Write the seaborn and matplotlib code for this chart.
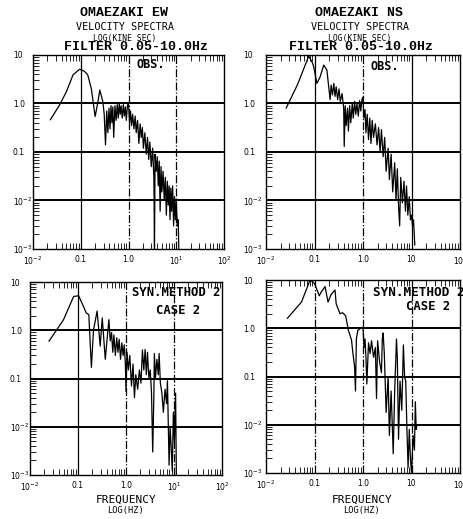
import numpy as np
import pandas as pd
import matplotlib
matplotlib.use("Agg")
import matplotlib.pyplot as plt
from matplotlib.ticker import FixedLocator, LogLocator, NullFormatter
import seaborn as sns

# ---- spectra (frequency in Hz, amplitude in kine*sec) ----
ew_obs_f = [0.023, 0.036, 0.05, 0.069, 0.095, 0.12, 0.14, 0.167, 0.2, 0.23, 0.25, 0.29,
            0.31, 0.33, 0.35, 0.37, 0.39, 0.41, 0.43, 0.45, 0.47, 0.49, 0.52, 0.55, 0.58,
            0.61, 0.64, 0.67, 0.70, 0.74, 0.78, 0.82, 0.86, 0.90, 0.95, 1.0, 1.05, 1.1,
            1.16, 1.22, 1.3, 1.38, 1.45, 1.55, 1.65, 1.75, 1.85, 1.95, 2.05, 2.2, 2.35,
            2.5, 2.65, 2.8, 3.0, 3.2, 3.4, 3.5, 3.6, 3.8, 4.0, 4.2, 4.4, 4.6, 4.8, 5.0,
            5.3, 5.6, 5.9, 6.2, 6.5, 6.8, 7.1, 7.4, 7.7, 8.0, 8.4, 8.8, 9.2, 9.6, 10.0,
            10.5, 11.0, 11.3]
ew_obs_a = [0.46, 0.93, 1.75, 3.9, 5.1, 4.6, 3.9, 2.0, 0.54, 1.1, 1.9, 1.1,
            0.6, 0.14, 0.7, 0.25, 0.8, 0.3, 0.9, 0.4, 0.85, 0.2, 0.9, 0.45, 0.95,
            0.5, 1.0, 0.6, 0.9, 0.5, 0.95, 0.55, 0.85, 0.45, 0.9, 1.05, 0.4, 0.7,
            0.35, 0.6, 0.3, 0.55, 0.25, 0.45, 0.15, 0.38, 0.2, 0.32, 0.12, 0.25, 0.09,
            0.2, 0.07, 0.16, 0.05, 0.12, 0.03, 0.001, 0.09, 0.04, 0.08, 0.02, 0.065, 0.006,
            0.05, 0.015, 0.04, 0.01, 0.03, 0.005, 0.025, 0.008, 0.02, 0.004, 0.018, 0.006,
            0.02, 0.003, 0.012, 0.004, 0.01, 0.003, 0.004, 0.001]

ns_obs_f = [0.026, 0.045, 0.076, 0.09, 0.096, 0.112, 0.13, 0.155, 0.18, 0.21, 0.22, 0.235,
            0.25, 0.265, 0.28, 0.30, 0.32, 0.34, 0.37, 0.40, 0.41, 0.43, 0.45, 0.48, 0.50,
            0.53, 0.56, 0.6, 0.63, 0.67, 0.71, 0.75, 0.8, 0.85, 0.9, 0.95, 1.0, 1.04, 1.1,
            1.15, 1.22, 1.3, 1.38, 1.46, 1.55, 1.65, 1.8, 1.95, 2.1, 2.25, 2.4, 2.6, 2.8,
            3.0, 3.3, 3.5, 3.8, 4.1, 4.5, 4.8, 5.1, 5.4, 5.7, 6.0, 6.5, 7.0, 7.5, 7.9,
            8.4, 9.0, 9.5, 10.0, 10.5, 11.0, 11.7]
ns_obs_a = [0.8, 2.5, 9.5, 7.0, 5.8, 2.6, 3.5, 6.2, 4.9, 1.2, 2.4, 1.5,
            2.6, 1.4, 2.2, 1.2, 2.0, 1.1, 1.6, 0.8, 0.13, 0.9, 0.35, 0.8, 0.27,
            0.9, 0.4, 1.0, 0.5, 1.1, 0.6, 1.0, 0.55, 1.15, 0.7, 1.2, 1.35, 0.5, 0.75,
            0.25, 0.6, 0.18, 0.5, 0.15, 0.45, 0.2, 0.38, 0.14, 0.32, 0.1, 0.29, 0.08, 0.2,
            0.04, 0.12, 0.027, 0.09, 0.015, 0.06, 0.01, 0.045, 0.008, 0.003, 0.03, 0.009,
            0.025, 0.006, 0.02, 0.005, 0.012, 0.004, 0.005, 0.003, 0.004, 0.0012]

ew_syn_f = [0.0248, 0.05, 0.081, 0.103, 0.125, 0.148, 0.168, 0.19, 0.21, 0.25, 0.29, 0.32,
            0.37, 0.44, 0.47, 0.5, 0.53, 0.56, 0.6, 0.64, 0.68, 0.72, 0.77, 0.82, 0.87,
            0.92, 0.97, 1.0, 1.05, 1.12, 1.2, 1.3, 1.4, 1.5, 1.6, 1.75, 1.9, 2.05, 2.2,
            2.35, 2.5, 2.65, 2.8, 3.0, 3.2, 3.4, 3.6, 3.8, 3.9, 4.1, 4.4, 4.7, 4.9, 5.2,
            5.6, 6.0, 6.5, 7.0, 7.3, 7.9, 8.3, 8.7, 9.2, 9.7, 10.2, 10.8, 11.2]
ew_syn_a = [0.59, 1.66, 5.0, 5.2, 3.4, 2.3, 2.1, 0.17, 1.0, 2.5, 0.47, 1.8,
            0.25, 1.66, 0.6, 0.9, 0.35, 0.8, 0.3, 0.7, 0.35, 0.65, 0.25, 0.55, 0.3,
            0.5, 0.2, 0.054, 0.35, 0.15, 0.3, 0.07, 0.2, 0.04, 0.12, 0.06, 0.15, 0.08, 0.39,
            0.15, 0.4, 0.12, 0.35, 0.1, 0.15, 0.05, 0.003, 0.04, 0.33, 0.1, 0.25, 0.12, 0.33,
            0.08, 0.05, 0.02, 0.06, 0.03, 0.09, 0.0016, 0.01, 0.004, 0.0012, 0.02, 0.005,
            0.05, 0.001]

ns_syn_f = [0.0275, 0.054, 0.081, 0.1, 0.12, 0.125, 0.14, 0.165, 0.19, 0.22, 0.265, 0.28,
            0.336, 0.38, 0.44, 0.5, 0.58, 0.62, 0.67, 0.7, 0.73, 0.78, 0.9, 1.0, 1.05,
            1.1, 1.15, 1.2, 1.3, 1.4, 1.5, 1.65, 1.8, 1.9, 2.0, 2.2, 2.4, 2.5, 2.6, 2.75,
            3.0, 3.3, 3.5, 3.8, 4.2, 4.5, 4.9, 5.1, 5.4, 5.8, 6.3, 6.8, 7.2, 7.6, 8.0,
            8.5, 9.0, 9.5, 10.0, 10.8, 11.5, 12.0, 12.5, 13.0]
ns_syn_a = [1.6, 3.5, 10.0, 8.5, 5.3, 4.7, 5.8, 7.3, 3.5, 5.0, 6.2, 3.2,
            2.0, 2.1, 1.8, 0.9, 0.57, 0.3, 0.16, 0.05, 0.6, 0.9, 1.0, 1.05, 0.4,
            0.6, 0.25, 0.07, 0.5, 0.3, 0.55, 0.25, 0.4, 0.035, 0.55, 0.2, 0.12, 0.6, 0.8, 0.3,
            0.018, 0.1, 0.006, 0.05, 0.0025, 0.05, 0.6, 0.25, 0.005, 0.08, 0.02, 0.45, 0.1,
            0.08, 0.01, 0.0013, 0.008, 0.002, 0.001, 0.006, 0.003, 0.03, 0.008, 0.01]

y_ticks = [1e-3, 1e-2, 1e-1, 1.0, 10.0]
y_ticklabels = ["$10^{-3}$", "$10^{-2}$", "0.1", "1.0", "10"]
x_ticks = [1e-2, 1e-1, 1.0, 10.0, 100.0]
x_ticklabels_a = ["$10^{-2}$", "0.1", "1.0", "$10^{1}$", "$10^{2}$"]
x_ticklabels_b = ["$10^{-2}$", "0.1", "1.0", "10", "$10^{2}$"]

sns.set_style("white")
plt.rcParams["font.family"] = ["DejaVu Sans"]
plt.rcParams["mathtext.fontset"] = "dejavusans"

W, H = 463, 519
fig = plt.figure(figsize=(W / 100, H / 100), dpi=100)


def px_axes(x0, x1, ytop, ybot):
    return fig.add_axes([x0 / W, 1 - ybot / H, (x1 - x0) / W, (ybot - ytop) / H])


panels = [
    # (rect, freq, amp, x labels, vertical grid styles, y label pad)
    ((33, 224, 55, 249), ew_obs_f, ew_obs_a, x_ticklabels_a, ["-", "-.", "-."], 14.5),
    ((266, 460, 55, 249), ns_obs_f, ns_obs_a, x_ticklabels_b, ["-", "-.", "-"], 16.5),
    ((30, 222, 282, 475), ew_syn_f, ew_syn_a, x_ticklabels_a, ["-", "-.", "-."], 14.5),
    ((266, 460, 280, 473), ns_syn_f, ns_syn_a, x_ticklabels_b, ["-.", "-.", "-."], 16.5),
]

for rect, f, a, xl, vstyles, ypad in panels:
    ax = px_axes(*rect)
    df = pd.DataFrame({"freq": f, "amp": a})
    ax.set_xscale("log")
    ax.set_yscale("log")
    ax.set_xlim(1e-2, 1e2)
    ax.set_ylim(1e-3, 10)
    # decade grid
    for yv in [1e-2, 1e-1, 1.0]:
        ax.axhline(yv, color="black", lw=1.4, zorder=1)
    for xv, ls in zip([0.1, 1.0, 10.0], vstyles):
        ax.axvline(xv, color="black", lw=0.9, ls=ls, zorder=1)
    sns.lineplot(data=df, x="freq", y="amp", ax=ax, color="black", lw=0.9,
                 estimator=None, sort=True, zorder=3)
    ax.set_xlabel("")
    ax.set_ylabel("")
    ax.xaxis.set_major_locator(FixedLocator(x_ticks))
    ax.yaxis.set_major_locator(FixedLocator(y_ticks))
    ax.set_xticklabels(xl)
    ax.set_yticklabels(y_ticklabels)
    ax.xaxis.set_minor_locator(LogLocator(base=10, subs=np.arange(2, 10), numticks=20))
    ax.yaxis.set_minor_locator(LogLocator(base=10, subs=np.arange(2, 10), numticks=20))
    ax.xaxis.set_minor_formatter(NullFormatter())
    ax.yaxis.set_minor_formatter(NullFormatter())
    ax.tick_params(which="major", length=0, labelsize=5.5, colors="black")
    ax.tick_params(axis="x", which="major", pad=4)
    ax.tick_params(which="minor", direction="in", length=4, width=0.6,
                   left=True, bottom=True, top=True, right=False, colors="black")
    for sp in ax.spines.values():
        sp.set_color("black")
        sp.set_linewidth(1.0)
    for lab in ax.get_yticklabels():
        lab.set_horizontalalignment("left")
    ax.yaxis.set_tick_params(pad=ypad)


def ftext(x, y, s, **kw):
    fig.text(x / W, 1 - y / H, s, ha="center", va="center", color="black", **kw)


title_font = ["Liberation Mono", "DejaVu Sans Mono"]
plot_font = ["DejaVu Sans Mono"]

for cx, name, fcx in [(124, "OMAEZAKI EW", 136), (359, "OMAEZAKI NS", 361)]:
    ftext(cx, 13, name, family=title_font, fontweight="bold", fontsize=9.5)
    ftext(cx + 1, 27, "VELOCITY SPECTRA", family=plot_font, fontsize=7.3)
    ftext(cx + 1, 38, "LOG(KINE SEC)", family=plot_font, fontsize=5.8)
    ftext(fcx, 47, "FILTER 0.05-10.0Hz", family=title_font, fontweight="bold", fontsize=9.5)

ftext(151, 65, "OBS.", family=plot_font, fontweight="bold", fontsize=8.5)
ftext(385, 66, "OBS.", family=plot_font, fontweight="bold", fontsize=8.5)

ftext(176, 293, "SYN.METHOD 2", family=plot_font, fontweight="bold", fontsize=8.8)
ftext(178, 310, "CASE 2", family=plot_font, fontweight="bold", fontsize=8.8)
fig.text(373 / W, 1 - 292 / H, "SYN.METHOD 2", ha="left", va="center",
         family=plot_font, fontweight="bold", fontsize=9.2, color="black")
ftext(428, 307, "CASE 2", family=plot_font, fontweight="bold", fontsize=8.8)

for cx in [126, 362]:
    ftext(cx, 500, "FREQUENCY", family=plot_font, fontsize=8)
    ftext(cx, 511, "LOG(HZ)", family=plot_font, fontsize=6.2)

fig.savefig("out.png", dpi=100, facecolor="white")
